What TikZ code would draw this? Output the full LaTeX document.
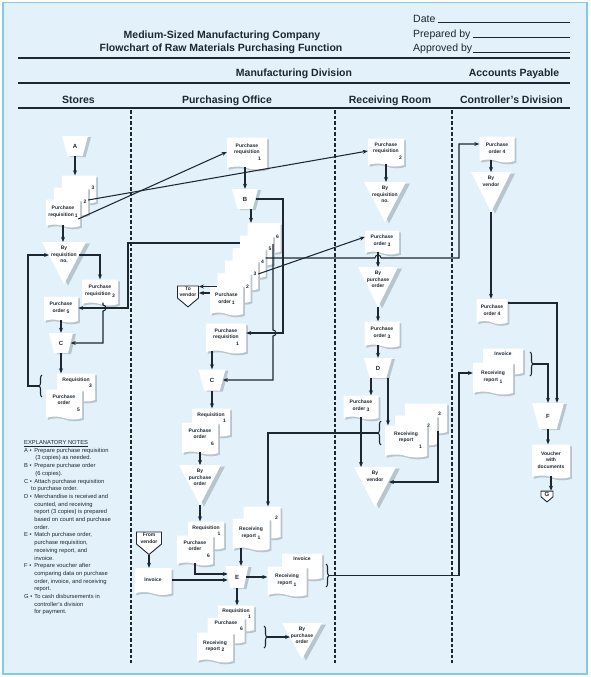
\documentclass[tikz,border=0pt]{standalone}
\usepackage{fontspec}
\setmainfont{Liberation Sans}
\usetikzlibrary{shapes.geometric,shapes.symbols,shadows,arrows.meta,calc,decorations.pathreplacing}
\definecolor{ink}{HTML}{1D2731}
\definecolor{bg}{HTML}{E3F1FA}
\definecolor{frm}{HTML}{7DCDE8}
\definecolor{shad}{HTML}{B9C5CD}
\newcommand\docf{\fontsize{5}{6.6}\selectfont\bfseries}
\newcommand\hdrf{\fontsize{10.5}{12}\selectfont\bfseries}
\newcommand\metaf{\fontsize{10.5}{12}\selectfont}
\newcommand\notef{\fontsize{5.8}{7.7}\selectfont}
\newcommand\opf{\fontsize{6}{7}\selectfont\bfseries}
\newcommand\filetri[6]{%
  \fill[shad] ({#2-#4/2+4},{#3+1.5}) -- ({#2+#4/2+4},{#3+1.5}) -- ({#2+4},{#3+#5+1.5}) -- cycle;
  \fill[white] ({#2-#4/2},#3) -- ({#2+#4/2},#3) -- (#2,{#3+#5}) -- cycle;
  \node[filetxt] (#1) at (#2,{#3+4}) {#6};
  \coordinate (#1-t) at (#2,#3);
  \coordinate (#1-a) at (#2,{#3+#5});
}
\begin{document}
\begin{tikzpicture}[x=1pt,y=-1pt,
  every node/.append style={text=ink},
  ln/.style={line width=1.05pt, draw=ink},
  arr/.style={ln, -{Stealth[length=5pt,width=4pt]}},
  doc/.style 2 args={tape, tape bend top=none, tape bend bottom=out and in, tape bend height=3pt, fill=white, minimum width=#1pt, minimum height=#2pt, inner sep=0.5pt, align=center, font=\docf, drop shadow={shadow xshift=1.8pt, shadow yshift=-1.8pt, fill=shad, opacity=1}},
  op/.style={trapezium, trapezium left angle=110, trapezium right angle=110, trapezium stretches=true, fill=white, minimum width=24pt, minimum height=20pt, inner sep=0pt, font=\opf, drop shadow={shadow xshift=3pt, shadow yshift=-1pt, fill=shad, opacity=1}},
  offpg/.style={signal, signal to=south, signal pointer angle=100, draw=ink, line width=0.9pt, fill=white, inner sep=1pt, align=center, font=\docf},
  filetxt/.style={anchor=north, align=center, font=\docf, inner sep=0pt},
  brc/.style={ln, decorate, decoration={brace, amplitude=3pt}},
  lane/.style={line width=1.3pt, draw=ink, dash pattern=on 3.5pt off 2pt},
  rule/.style={line width=1.6pt, draw=ink},
  ul/.style={line width=0.9pt, draw=ink},
  hdr/.style={font=\hdrf, inner sep=0pt, anchor=base},
  meta/.style={font=\metaf, inner sep=0pt, anchor=base west}]
\useasboundingbox (0,0) rectangle (590,677);
\fill[white] (0,0) rectangle (590,677);
\draw[frm, line width=1.5pt, fill=bg] (3,2.5) rectangle (587,674);

% ---------- header ----------
\node[hdr] (t1) at (222,38) {Medium-Sized Manufacturing Company};
\node[hdr] (t2) at (221,52) {Flowchart of Raw Materials Purchasing Function};
\node[meta] (date) at (413,22.5) {Date};
\node[meta] (prep) at (413,37.5) {Prepared by};
\node[meta] (appr) at (413,52) {Approved by};
\coordinate (ulend) at (570,0);
\draw[ul] ([xshift=2pt]date.base east) -- (date.base east -| ulend);
\draw[ul] ([xshift=2pt]prep.base east) -- (prep.base east -| ulend);
\draw[ul] ([xshift=1pt]appr.base east) -- (appr.base east -| ulend);
\draw[rule] (18,58) -- (570,58);
\node[hdr] (mdiv) at (294,77) {Manufacturing Division};
\node[hdr] (apay) at (514,77) {Accounts Payable};
\draw[rule] (18,83) -- (570,83);
\node[hdr] (hst) at (78.5,103) {Stores};
\node[hdr] (hpo) at (227,103) {Purchasing Office};
\node[hdr] (hrr) at (390,103) {Receiving Room};
\node[hdr] (hcd) at (511.5,103) {Controller's Division};
\draw[rule] (18,108) -- (570,108);
\draw[lane] (131,110) -- (131,663);
\draw[lane] (335,110) -- (335,663);
\draw[lane] (452,110) -- (452,663);

% ---------- Stores ----------
\node[op, minimum width=26pt] (A) at (75,146) {A};
\node[doc={34}{28}] (sPR3) at (79,188) {\makebox[31pt][r]{3}};
\node[doc={34}{28}] (sPR2) at (71,200) {~\\\makebox[31pt][r]{2}};
\node[doc={34}{28}] (sPR1) at (63,212) {Purchase\\requisition\,\raisebox{-1.5pt}{1}};
\filetri{fileS}{64}{242}{44}{42}{By\\requisition\\no.}
\node[doc={36}{26}] (sPR3b) at (100,291) {Purchase\\requisition \raisebox{-2pt}{3}};
\node[doc={34}{26}] (sPO5) at (61,308) {Purchase\\order \raisebox{-1pt}{5}};
\node[op] (Cs) at (61,343) {C};
\node[doc={38}{28}] (sReq3) at (76,386) {Requisition\\\makebox[32pt][r]{3}\\~};
\node[doc={36}{30}] (sPO5b) at (64,403) {Purchase\\order\\\makebox[32pt][r]{5}};
\draw[brc] (42,397) -- (42,375);
\coordinate (sbr) at (39,386);
\coordinate (fSr) at (79,255);
\coordinate (fSl) at (49,255);

\node[anchor=north west, font=\notef, inner sep=0pt] (notes) at (24,439) {%
\begin{tabular}{@{}l@{\hspace{2pt}}l@{}}
\multicolumn{2}{@{}l}{\underline{EXPLANATORY NOTES}}\\
A \textbullet & Prepare purchase requisition\\
 & \hspace{1pt}(3 copies) as needed.\\
B \textbullet & Prepare purchase order\\
 & \hspace{1pt}(6 copies).\\
C \textbullet & Attach purchase requisition\\
\multicolumn{2}{@{}l}{\hspace{7pt}to purchase order.}\\
D \textbullet & Merchandise is received and\\
 & counted, and receiving\\
 & report (3 copies) is prepared\\
 & based on count and purchase\\
 & order.\\
E \textbullet & Match purchase order,\\
 & purchase requisition,\\
 & receiving report, and\\
 & invoice.\\
F \textbullet & Prepare voucher after\\
 & comparing data on purchase\\
 & order, invoice, and receiving\\
 & report.\\
G \textbullet & To cash disbursements in\\
 & controller's division\\
 & for payment.
\end{tabular}};

% ---------- Purchasing Office ----------
\node[doc={40}{32}] (pPR1) at (247,152) {Purchase\\requisition\\\makebox[28pt][r]{1}};
\node[op, minimum width=26pt] (B) at (245,199) {B};
\node[doc={33}{30}] (pPO6) at (264,236.5) {\makebox[30pt][r]{6}};
\node[doc={33}{30}] (pPO5) at (256.5,249) {\makebox[30pt][r]{5}};
\node[doc={33}{30}] (pPO4) at (249,261.5) {\makebox[30pt][r]{4}};
\node[doc={33}{30}] (pPO3) at (241.5,274) {\makebox[30pt][r]{3}};
\node[doc={33}{30}] (pPO2) at (234,286.5) {\makebox[30pt][r]{2}};
\node[doc={33}{30}] (pPO1) at (226.5,299) {Purchase\\order\,\raisebox{-1.5pt}{1}};
\node[offpg, minimum width=21pt, minimum height=16pt] (toV) at (188,292) {To\\vendor};
\node[doc={40}{30}] (pPR1b) at (226,337) {Purchase\\requisition\\\makebox[26pt][r]{1}};
\node[op, minimum width=27pt, minimum height=21pt] (Cp) at (212,380) {C};
\node[doc={38}{28}] (pReq1) at (211,421) {Requisition\\\makebox[30pt][r]{1}\\~};
\node[doc={36}{32}] (pPO6s) at (200,437) {Purchase\\order\\\makebox[28pt][r]{6}};
\filetri{fileP1}{200}{465}{42}{40}{By\\purchase\\order}
\node[doc={36}{28}] (pReq1b) at (206,534) {Requisition\\\makebox[29pt][r]{1}\\~};
\node[doc={36}{30}] (pPO6b) at (195,549) {Purchase\\order\\\makebox[30pt][r]{6}};
\node[doc={37}{32}] (pRR2) at (262,521) {\makebox[32pt][r]{2}\\~};
\node[doc={37}{32}] (pRR1) at (251,533) {Receiving\\report \raisebox{-2pt}{1}};
\node[offpg, minimum width=25pt, minimum height=14pt] (fromV) at (149,538) {From\\vendor};
\node[doc={37}{27}] (pInv) at (153,580) {Invoice};
\node[op, minimum width=23pt, minimum height=22pt] (E) at (237,577) {E};
\node[doc={40}{26}] (pInvc) at (302,565) {Invoice\\~\\~};
\node[doc={39}{30}] (pRR1c) at (287,580) {Receiving\\report \raisebox{-2pt}{1}};
\draw[brc] (326,564) -- (326,587);
\node[doc={36}{26}] (bReq1) at (236,617) {Requisition\\\makebox[30pt][r]{1}\\~};
\node[doc={37}{26}] (bPur6) at (226,629) {Purchase\\\makebox[34pt][r]{6}\\~};
\node[doc={36}{30}] (bRR2) at (215,646) {Receiving\\report \raisebox{-1pt}{2}};
\draw[brc] (264,626) -- (264,648);
\filetri{fileP2}{302}{623}{40}{36}{By\\purchase\\order}

% ---------- Receiving Room ----------
\node[doc={36}{28}] (rPR2) at (386,151) {Purchase\\requisition\\\makebox[32pt][r]{2}};
\filetri{fileR1}{385}{182}{42}{40}{By\\requisition\\no.}
\node[doc={34}{24}] (rPO3a) at (382,241) {Purchase\\order \raisebox{-1pt}{3}};
\filetri{fileR2}{378}{267}{40}{40}{By\\purchase\\order}
\node[doc={35}{26}] (rPO3b) at (382,333) {Purchase\\order \raisebox{-1pt}{3}};
\node[op, minimum width=28pt] (D) at (378,368) {D};
\node[doc={35}{24}] (rPO3c) at (361,406) {Purchase\\order \raisebox{-1pt}{3}};
\node[doc={42}{30}] (rRR3) at (426,417) {\makebox[30pt][r]{3}\\~};
\node[doc={42}{30}] (rRR2) at (416,429) {\makebox[28pt][r]{2}\\~};
\node[doc={42}{32}] (rRR1) at (406,440) {Receiving\\report\\\makebox[32pt][r]{1}};
\draw[brc] (381,445) -- (381,421);
\filetri{fileR3}{375}{467}{42}{40}{By\\vendor}

% ---------- Controller's Division ----------
\node[doc={35}{26}] (cPO4a) at (497,148) {Purchase\\order 4};
\filetri{fileC}{491}{172}{40}{40}{By\\vendor}
\node[doc={31}{25}] (cPO4b) at (492,310) {Purchase\\order 4};
\node[doc={40}{26}] (cInv) at (503,360) {Invoice\\~\\~};
\node[doc={40}{32}] (cRR1) at (493,377) {Receiving\\report \raisebox{-2pt}{1}};
\draw[brc] (530,352) -- (530,376);
\node[op, minimum width=32pt, minimum height=26pt] (F) at (548,416) {F};
\node[doc={38}{34}] (cV) at (551,460) {Voucher\\with\\documents};
\node[offpg, minimum width=12pt, minimum height=8pt, inner sep=0.5pt, font=\opf] (G) at (547,494) {G};

% ---------- connectors: Stores ----------
\draw[arr] (A.south) -- (A.south |- sPR3.north);
\coordinate (sPR1o) at ($(sPR1.east)+(-2,7)$);
\draw[arr] (sPR1o) -- (pPR1.west);
\draw[arr] (sPR2.east) -- (rPR2.west);
\draw[arr] (sPR1.south) -- (sPR1.south |- fileS-t);
\draw[arr] (fSr) -| (sPR3b.north);
\draw[arr] (sbr) -- (28,386) -- (28,255) -- (fSl);
\draw[arr] ($(pPO5.west)+(0,-6)$) -- (128,243) -- (128,308) -- (sPO5.east);
\draw[arr] ($(sPR3b.south)+(3,0)$) -- (103,305) arc[start angle=90,end angle=-90,radius=3pt] -- (103,343) -- (Cs.east);
\draw[arr] (sPO5.south) -- (sPO5.south |- Cs.north);
\draw[arr] (Cs.south) -- (Cs.south |- sReq3.north);

% ---------- connectors: Purchasing ----------
\draw[arr] (B.north |- pPR1.south) -- (B.north);
\coordinate (Bo) at ($(B.south)+(6,0)$);
\draw[arr] (Bo) -- (Bo |- pPO6.north);
\draw[arr] (B.east) -| (283,333) -- ($(pPR1b.east)+(0,-4)$);
\coordinate (p6o) at (273,244);
\draw[arr] (p6o) -- (273,330) arc[start angle=90,end angle=-90,radius=3pt] -- (273,380) -- (Cp.east);
\draw[arr] ($(pPO4.east)+(0,-3.5)$) -- (375,258) arc[start angle=180,end angle=0,radius=3pt] -- (459,258) -- (459,144) -- ($(cPO4a.west)+(0,-4)$);
\draw[arr] (pPO3.east) -- ($(rPO3a.west)+(0,-4)$);
\draw[arr] (pPO2.west) -- (pPO2.west -| toV.east);
\coordinate (p1o) at ($(pPO1.west)+(0,-6)$);
\draw[arr] (p1o) -- (p1o -| toV.east);
\draw[arr] (Cp.north |- pPR1b.south) -- (Cp.north);
\draw[arr] (Cp.south) -- (Cp.south |- pReq1.north);
\draw[arr] (pPO6s.south) -- (pPO6s.south |- fileP1-t);
\draw[arr] (fileP1-a) -- (fileP1-a |- pReq1b.north);
\draw[arr] (pPO6b.south) |- ($(E.west)+(0,-3)$);
\draw[arr] (fromV.south) -- (fromV.south |- pInv.north);
\draw[arr] (pInv.east) -- (pInv.east -| E.west);
\coordinate (rbr) at (378,433);
\draw[arr] (rbr) -| ($(pRR2.north)+(6,0)$);
\coordinate (Ein) at ($(E.north)+(4,0)$);
\draw[arr] (Ein |- pRR1.south) -- (Ein);
\draw[arr] (E.east) -- (E.east -| pRR1c.west);
\draw[arr] (329,575.5) -- (459,575.5) -- (459,373) -- ($(cRR1.west)+(0,-4)$);
\draw[arr] (E.south) -- (E.south |- bReq1.north);
\coordinate (fP2l) at (290,637);
\draw[arr] (267,637) -- (fP2l);

% ---------- connectors: Receiving ----------
\draw[arr] (rPR2.south) -- (rPR2.south |- fileR1-t);
\draw[arr] (fileR2-t |- rPO3a.south) -- (fileR2-t);
\draw[arr] (fileR2-a) -- (fileR2-a |- rPO3b.north);
\draw[arr] (D.north |- rPO3b.south) -- (D.north);
\coordinate (Dl) at ($(D.south)+(-7,0)$);
\draw[arr] (Dl) -- (Dl |- rPO3c.north);
\coordinate (Dr) at ($(D.south)+(10,0)$);
\draw[arr] (Dr) -- (Dr |- rRR1.north);
\draw[arr] (rPO3c.south) -- (rPO3c.south |- fileR3-t);
\coordinate (r3o) at ($(rRR3.south)+(12,0)$);
\coordinate (fR3r) at (389,482);
\draw[arr] (r3o) |- (fR3r);

% ---------- connectors: Controller ----------
\draw[arr] (fileC-t |- cPO4a.south) -- (fileC-t);
\draw[arr] (fileC-a) -- (fileC-a |- cPO4b.north);
\coordinate (Fr) at ($(F.north)+(9,0)$);
\draw[arr] ($(cPO4b.east)+(0,-7)$) -| (Fr);
\draw[arr] (533,364) -| (F.north);
\draw[arr] (F.south) -- (F.south |- cV.north);
\draw[arr] (cV.south) -- (cV.south |- G.north);
\end{tikzpicture}
\end{document}
